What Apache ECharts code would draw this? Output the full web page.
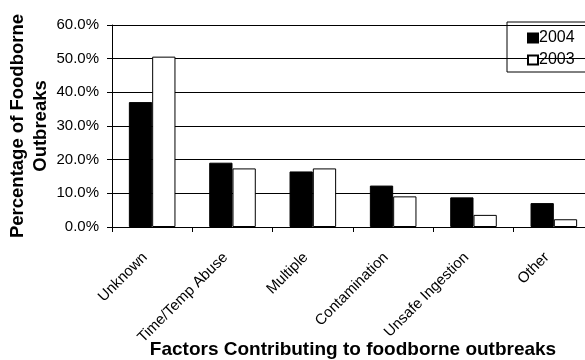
<!DOCTYPE html>
<html>
<head>
<meta charset="utf-8">
<script src="https://cdn.jsdelivr.net/npm/echarts@6/dist/echarts.min.js"></script>
<style>
  html, body { margin: 0; padding: 0; background: #fff; }
  #chart { width: 585px; height: 360px; }
</style>
</head>
<body>
<div id="chart"></div>
<script>
// Contributing factors and share of outbreaks (percent) per year
const categories = ['Unknown', 'Time/Temp Abuse', 'Multiple', 'Contamination', 'Unsafe Ingestion', 'Other'];
const share2004 = [37.1, 19.1, 16.5, 12.3, 8.8, 7.1];
const share2003 = [50.6, 17.4, 17.4, 9.1, 3.6, 2.3];
const yTicks = { min: 0, max: 60, interval: 10 };

const font = 'Liberation Sans, Arial, sans-serif';
const chart = echarts.init(document.getElementById('chart'), null, { renderer: 'canvas' });

chart.setOption({
  animation: false,
  backgroundColor: '#fff',
  grid: { left: 112, top: 25, bottom: 133, right: -9, containLabel: false, outerBoundsMode: 'none' },
  legend: {
    orient: 'vertical',
    left: 507,
    top: 22,
    data: ['2004', '2003'],
    itemWidth: 10,
    itemHeight: 9,
    itemGap: 6,
    padding: [8, 20, 4, 20],
    borderColor: '#000',
    borderWidth: 1,
    icon: 'rect',
    textStyle: { fontFamily: font, fontSize: 16, color: '#000', padding: [0, 0, 0, -4] }
  },
  xAxis: {
    type: 'category',
    data: categories,
    name: 'Factors Contributing to foodborne outbreaks',
    nameLocation: 'middle',
    nameGap: 113,
    nameMoveOverlap: false,
    nameTextStyle: { fontFamily: font, fontSize: 19, fontWeight: 'bold', color: '#000' },
    axisLine: { lineStyle: { color: '#000', width: 1 } },
    axisTick: { show: true, length: 5, alignWithLabel: false, lineStyle: { color: '#000' } },
    axisLabel: {
      interval: 0, rotate: 45, margin: 21, padding: [0, 10, 0, 0],
      fontFamily: font, fontSize: 15, color: '#000'
    },
    splitLine: { show: false }
  },
  yAxis: {
    type: 'value',
    min: yTicks.min,
    max: yTicks.max,
    interval: yTicks.interval,
    name: 'Percentage of Foodborne\nOutbreaks',
    nameLocation: 'middle',
    nameRotate: 90,
    nameGap: 60,
    nameMoveOverlap: false,
    nameTextStyle: { fontFamily: font, fontSize: 18.5, fontWeight: 'bold', color: '#000', lineHeight: 23, align: 'center' },
    axisLine: { show: true, lineStyle: { color: '#000', width: 1 } },
    axisTick: { show: true, length: 5, lineStyle: { color: '#000' } },
    axisLabel: {
      margin: 13,
      fontFamily: font,
      fontSize: 15,
      color: '#000',
      formatter: v => v.toFixed(1) + '%'
    },
    splitLine: { show: true, lineStyle: { color: '#000', width: 1 } }
  },
  series: [
    {
      name: '2004',
      type: 'bar',
      data: share2004,
      barGap: '0%',
      barCategoryGap: '42%',
      itemStyle: { color: '#000', borderColor: '#000', borderWidth: 1 }
    },
    {
      name: '2003',
      type: 'bar',
      data: share2003,
      barGap: '0%',
      barCategoryGap: '42%',
      itemStyle: { color: '#fff', borderColor: '#000', borderWidth: 1 }
    }
  ]
});
</script>
</body>
</html>
